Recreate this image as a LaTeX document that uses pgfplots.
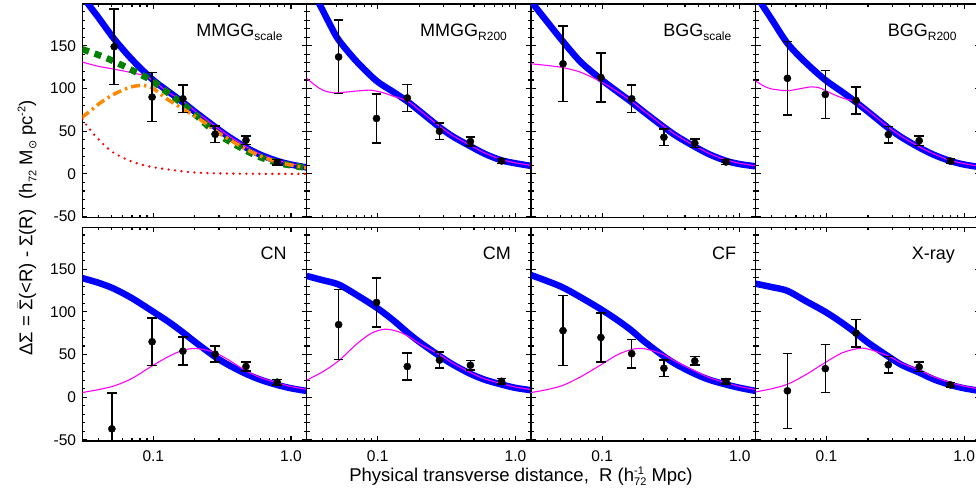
\documentclass[border=0pt]{standalone}
\usepackage{fontspec}
\setmainfont{Liberation Sans}
\newfontfamily\dejavu{DejaVu Sans}
\usepackage{pgfplots}
\pgfplotsset{compat=1.18}
\definecolor{myorange}{RGB}{255,136,0}
\definecolor{mygreen}{RGB}{0,128,0}
\definecolor{mymag}{RGB}{255,0,255}
\definecolor{myblue}{RGB}{0,0,255}
\newcommand\sub[1]{\raisebox{-4pt}{\fontsize{12}{13}\selectfont #1}}
\newcommand\AX[3]{\begin{axis}[xmode=log, xmin=0.0305, xmax=1.30, ymin=-51, ymax=199,
    scale only axis, width=224.4pt, height=213.5pt,
    axis line style={line width=1.5pt},
    xtick={0.1,1},
    minor xtick={0.04,0.05,0.06,0.07,0.08,0.09,0.2,0.3,0.4,0.5,0.6,0.7,0.8,0.9},
    ytick={-50,0,50,100,150},
    minor ytick={-40,-30,-20,-10,10,20,30,40,60,70,80,90,110,120,130,140,160,170,180,190},
    xticklabels={}, yticklabels={},
    tick align=inside, xtick pos=both, ytick pos=both,
    major tick length=5pt, minor tick length=3pt,
    tick style={black, line width=1.1pt},
    tick label style={font=\fontsize{15.5}{17}\selectfont},
    yticklabel style={anchor=east, inner sep=0pt, xshift=-6pt},
    xticklabel style={anchor=base, inner sep=0pt, yshift=-21pt},
    clip=true, at={(#1,#2)}, anchor=south west, #3]}
\newcommand\BLUE{\addplot[myblue, line width=6.5pt, smooth, tension=0.5, mark=none]}
\newcommand\MAG{\addplot[mymag, line width=1.1pt, smooth, tension=0.5, mark=none]}
\newcommand\PTS{\addplot[only marks, mark=*, mark size=3.6pt, black, mark options={fill=black, draw=black},
    error bars/y dir=both, error bars/y explicit, error bars/error mark=-,
    error bars/error bar style={line width=1.5pt, black},
    error bars/error mark options={rotate=90, line width=1.5pt, mark size=4.8pt, black}]}
\newcommand\ttl[2]{\node[anchor=base east, font=\fontsize{18}{20}\selectfont, inner sep=0pt] at (rel axis cs:#1,0.847) {#2};}
\begin{document}
\begin{tikzpicture}
\useasboundingbox (0pt,0pt) rectangle (976pt,491pt);
% ---------- Panel 1: MMGG_scale
\AX{82.3pt}{273.5pt}{yticklabels={-50,0,50,100,150}}
\BLUE coordinates {(0.0305,210) (0.0337,199) (0.04,183) (0.052,158) (0.07,134) (0.098,111) (0.13,96) (0.164,84) (0.2,73) (0.281,55) (0.35,44) (0.471,31) (0.6,22.5) (0.794,15.2) (1.0,11) (1.3,7.6)};
\MAG coordinates {(0.0305,131) (0.04,126) (0.052,122.7) (0.07,118.5) (0.0895,114) (0.112,103) (0.13,95) (0.164,85) (0.2,74) (0.281,56) (0.35,45) (0.471,32) (0.6,23) (0.794,16) (1.0,12) (1.3,8.5)};
\addplot[mygreen, line width=6.5pt, dash pattern=on 7pt off 6pt, smooth, tension=0.5, mark=none] coordinates {(0.0305,146) (0.0446,136.4) (0.0605,126.6) (0.08,116.8) (0.098,109) (0.13,94) (0.164,81.7) (0.2,70) (0.28,49) (0.35,39) (0.47,27.5) (0.6,19.5) (0.79,13.3) (1.0,10) (1.3,7.2)};
\addplot[myorange, line width=3.5pt, dash pattern=on 9pt off 4pt on 2.5pt off 4pt, smooth, tension=0.5, mark=none] coordinates {(0.0302,66) (0.035,74) (0.041,83) (0.0512,93) (0.0677,101.5) (0.08,103.5) (0.0895,103) (0.1,100) (0.125,88) (0.165,76) (0.218,64) (0.28,51) (0.35,41) (0.47,29) (0.6,21) (0.79,14) (1.0,10.5) (1.3,7)};
\addplot[red, line width=2.6pt, line cap=round, dash pattern=on 0pt off 6.5pt, smooth, tension=0.5, mark=none] coordinates {(0.0305,64) (0.0328,57) (0.0343,53) (0.0367,47) (0.0433,35) (0.0512,25) (0.0677,15.3) (0.0895,9.4) (0.125,5.5) (0.195,1.8) (0.3,0.7) (0.5,0.2) (1.3,0)};
\PTS coordinates {(0.052,149) +- (0,44) (0.098,90) +- (0,28.5) (0.164,88) +- (0,16) (0.281,46.5) +- (0,9.5) (0.471,39.5) +- (0,5) (0.794,13.7) +- (0,3)};
\ttl{0.893}{MMGG\sub{scale}}
\end{axis}
% ---------- Panel 2: MMGG_R200
\AX{306.7pt}{273.5pt}{}
\BLUE coordinates {(0.0305,225) (0.0377,199) (0.045,175) (0.052,157) (0.07,132) (0.098,109) (0.13,96) (0.164,85) (0.2,74) (0.28,55) (0.35,44) (0.47,32.5) (0.6,23.5) (0.79,16) (1.0,12.5) (1.3,9.4)};
\MAG coordinates {(0.0305,112) (0.035,104) (0.04,98) (0.048,95) (0.06,96) (0.075,97.5) (0.09,98) (0.11,95) (0.13,91) (0.164,85.5) (0.2,75) (0.28,56) (0.35,45) (0.47,33.5) (0.6,24.5) (0.79,17) (1.0,13) (1.3,10)};
\PTS coordinates {(0.052,137) +- (0,43) (0.098,65) +- (0,28.5) (0.164,89) +- (0,16) (0.281,50) +- (0,9.5) (0.471,38) +- (0,5.5) (0.794,15.2) +- (0,3)};
\ttl{0.893}{MMGG\sub{R200}}
\end{axis}
% ---------- Panel 3: BGG_scale
\AX{531.1pt}{273.5pt}{}
\BLUE coordinates {(0.0305,205) (0.0316,199) (0.04,178) (0.052,155) (0.07,131) (0.098,111) (0.13,96) (0.164,84) (0.2,73) (0.28,55) (0.35,44) (0.47,32) (0.6,23) (0.79,15.5) (1.0,11.5) (1.3,9)};
\MAG coordinates {(0.0305,129) (0.04,127) (0.052,124.5) (0.07,119) (0.098,108) (0.13,96) (0.164,85) (0.2,74) (0.28,56) (0.35,45) (0.47,33) (0.6,24) (0.79,16.5) (1.0,12.5) (1.3,9.5)};
\PTS coordinates {(0.052,129) +- (0,44) (0.098,113) +- (0,28.5) (0.164,88) +- (0,16) (0.281,43) +- (0,9.5) (0.471,36) +- (0,5) (0.794,14) +- (0,3)};
\ttl{0.893}{BGG\sub{scale}}
\end{axis}
% ---------- Panel 4: BGG_R200
\AX{755.5pt}{273.5pt}{}
\BLUE coordinates {(0.0305,212) (0.0338,199) (0.04,181) (0.052,153) (0.07,131) (0.098,110) (0.13,96) (0.164,84) (0.2,73) (0.28,54) (0.35,43) (0.47,31) (0.6,22.5) (0.79,15.2) (1.0,11) (1.3,8)};
\MAG coordinates {(0.0305,109) (0.035,103) (0.04,99.5) (0.052,97.5) (0.065,100) (0.078,102) (0.09,100.5) (0.106,95) (0.13,89) (0.164,84) (0.2,74) (0.28,55) (0.35,44) (0.47,32) (0.6,23.5) (0.79,16) (1.0,12) (1.3,9)};
\PTS coordinates {(0.052,112) +- (0,43) (0.098,93) +- (0,28) (0.164,86) +- (0,16) (0.281,46) +- (0,9.5) (0.471,39) +- (0,5.5) (0.794,15) +- (0,3)};
\ttl{0.897}{BGG\sub{R200}}
\end{axis}
% ---------- Panel 5: CN
\AX{82.3pt}{50.2pt}{yticklabels={-50,0,50,100,150}, xticklabels={0.1,1.0}}
\BLUE coordinates {(0.0305,139.5) (0.04,134) (0.052,127) (0.07,116) (0.098,101) (0.13,88) (0.164,76) (0.2,65) (0.28,47.5) (0.35,38) (0.47,27.5) (0.6,20.5) (0.79,14.5) (1.0,10.5) (1.3,7.4)};
\MAG coordinates {(0.0305,5.5) (0.04,9) (0.052,13.3) (0.07,22) (0.098,36.7) (0.13,48) (0.164,55) (0.195,57) (0.23,56) (0.28,52.4) (0.35,44) (0.47,31) (0.6,23) (0.79,17) (1.0,12.5) (1.3,9.4)};
\PTS coordinates {(0.05,-37) +- (0,42) (0.098,65) +- (0,28) (0.164,54) +- (0,16.5) (0.281,50.5) +- (0,9.5) (0.471,36) +- (0,5.5) (0.794,17.6) +- (0,3)};
\ttl{0.911}{CN}
\end{axis}
% ---------- Panel 6: CM
\AX{306.7pt}{50.2pt}{xticklabels={0.1,1.0}}
\BLUE coordinates {(0.0305,142) (0.04,137) (0.052,132) (0.07,120) (0.098,105) (0.13,90) (0.164,76) (0.2,65) (0.28,48.5) (0.35,38.5) (0.47,27.5) (0.6,20.5) (0.79,15) (1.0,11) (1.3,8.2)};
\MAG coordinates {(0.0305,20) (0.04,30) (0.052,42.6) (0.07,62) (0.09,75) (0.113,79.7) (0.14,77) (0.164,72) (0.2,63) (0.28,50) (0.35,40) (0.47,29) (0.6,21.5) (0.79,16) (1.0,12) (1.3,9)};
\PTS coordinates {(0.052,85) +- (0,41) (0.098,111) +- (0,28.5) (0.164,36) +- (0,16) (0.281,43.5) +- (0,9.5) (0.471,37.5) +- (0,5.5) (0.794,18.7) +- (0,3)};
\ttl{0.911}{CM}
\end{axis}
% ---------- Panel 7: CF
\AX{531.1pt}{50.2pt}{xticklabels={0.1,1.0}}
\BLUE coordinates {(0.0305,143) (0.04,136) (0.052,128.5) (0.07,117) (0.098,103) (0.13,90) (0.164,78) (0.2,66) (0.28,48) (0.35,38) (0.47,27.5) (0.6,20.5) (0.79,15) (1.0,11) (1.3,7.4)};
\MAG coordinates {(0.0305,5.5) (0.04,9) (0.052,14) (0.07,24) (0.098,38) (0.13,50) (0.165,56) (0.2,57) (0.25,53) (0.28,50) (0.35,41) (0.47,31) (0.6,23) (0.79,17) (1.0,12.5) (1.3,9)};
\PTS coordinates {(0.052,78) +- (0,41) (0.098,70) +- (0,28.5) (0.164,51) +- (0,16.5) (0.281,34) +- (0,9.5) (0.471,42.5) +- (0,5) (0.794,18.4) +- (0,3)};
\ttl{0.915}{CF}
\end{axis}
% ---------- Panel 8: X-ray
\AX{755.5pt}{50.2pt}{xticklabels={0.1,1.0}}
\BLUE coordinates {(0.0305,133) (0.04,129) (0.052,124.6) (0.07,113) (0.098,100) (0.13,87) (0.164,75) (0.2,64) (0.28,48) (0.35,38) (0.47,29) (0.6,21) (0.79,14.5) (1.0,10.5) (1.3,7.4)};
\MAG coordinates {(0.0305,6.2) (0.04,10) (0.052,15.2) (0.07,26) (0.098,40.7) (0.13,52) (0.175,57.4) (0.21,55.5) (0.28,48.5) (0.35,40) (0.47,32) (0.6,24) (0.79,17.2) (1.0,13) (1.3,9.4)};
\PTS coordinates {(0.052,7.5) +- (0,44) (0.098,33.5) +- (0,28) (0.164,75) +- (0,16) (0.281,38) +- (0,9.5) (0.471,35.5) +- (0,5.5) (0.794,14.5) +- (0,2.5)};
\ttl{0.889}{X-ray}
\end{axis}
% ---------- axis labels
\node[anchor=base, font=\fontsize{18.5}{20}\selectfont, inner sep=0pt] at (521pt,10pt)
  {Physical transverse distance,\ \ R (h\makebox[0pt][l]{\raisebox{7pt}{\fontsize{11}{12}\selectfont -1}}\raisebox{-4pt}{\fontsize{11}{12}\selectfont 72} Mpc)};
\node[rotate=90, anchor=center, font=\fontsize{18.5}{20}\selectfont, inner sep=0pt] at (27pt,263pt)
  {ΔΣ = $\bar{\hbox{Σ}}$(<R) - Σ(R)\ \ (h\raisebox{-4pt}{\fontsize{11}{12}\selectfont 72} M\raisebox{-4pt}{\fontsize{11}{12}\selectfont\dejavu ⊙} pc\raisebox{7pt}{\fontsize{11}{12}\selectfont -2})};
\end{tikzpicture}
\end{document}
